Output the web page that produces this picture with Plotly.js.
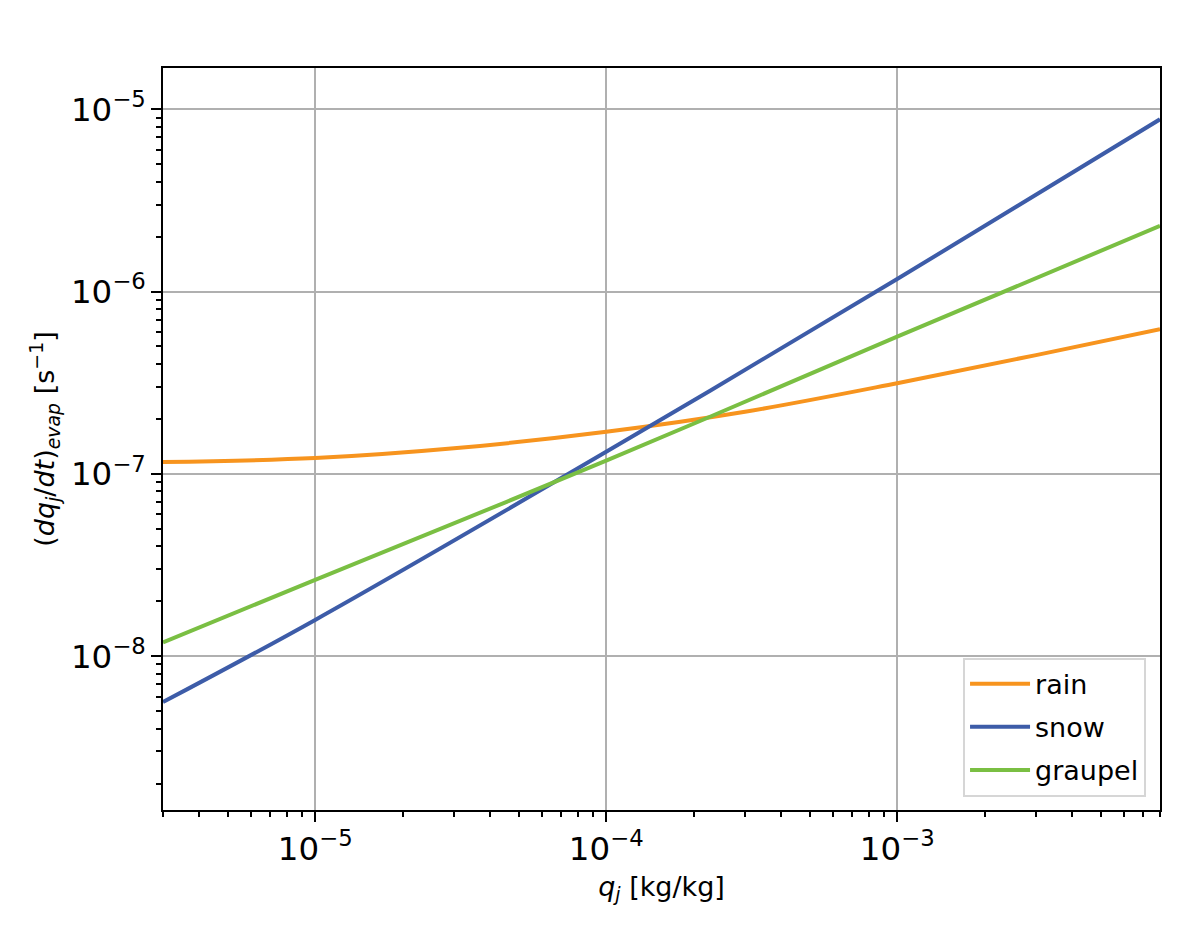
<!DOCTYPE html>
<html>
<head>
<meta charset="utf-8">
<script src="https://cdn.plot.ly/plotly-3.0.1.min.js"></script>
<style>
  body { margin: 0; background: #fff; }
  #plot { width: 1200px; height: 931px; }
</style>
</head>
<body>
<div id="plot"></div>
<script>
// values (log-log plot)
var q = [3e-6, 1e-5, 3e-5, 1e-4, 3e-4, 1e-3, 3e-3, 8e-3];
var rain = [1.16e-7, 1.22e-7, 1.38e-7, 1.70e-7, 2.19e-7, 3.14e-7, 4.48e-7, 6.21e-7];

var qLine = [3e-6, 1e-5, 1e-4, 1e-3, 8e-3];
var snow = [5.6e-9, 1.58e-8, 1.32e-7, 1.17e-6, 8.8e-6];
var graupel = [1.19e-8, 2.62e-8, 1.18e-7, 5.66e-7, 2.29e-6];

var font = 'DejaVu Sans, sans-serif';

var trace1 = {
  x: q, y: rain, name: 'rain', mode: 'lines', legendgroup: 'a',
  line: {color: '#f7941e', width: 4, shape: 'spline'}
};
var trace2 = {
  x: qLine, y: snow, name: 'snow', mode: 'lines', legendgroup: 'b',
  line: {color: '#3d5ca8', width: 4, shape: 'spline'}
};
var trace3 = {
  x: qLine, y: graupel, name: 'graupel', mode: 'lines', legendgroup: 'c',
  line: {color: '#7abf43', width: 4, shape: 'spline'}
};

var data = [trace1, trace2, trace3];

var axisCommon = {
  type: 'log',
  dtick: 1,
  exponentformat: 'power',
  showexponent: 'all',
  showline: true, mirror: true, linecolor: 'black', linewidth: 2,
  ticks: 'outside', ticklen: 10, tickwidth: 2, tickcolor: 'black',
  showgrid: true, gridcolor: '#b0b0b0', gridwidth: 2,
  zeroline: false,
  tickfont: {family: font, size: 26, color: 'black'},
  minor: {ticks: 'outside', ticklen: 5, tickwidth: 1.5, tickcolor: 'black', showgrid: false}
};

var layout = {
  width: 1200, height: 931,
  margin: {l: 163, r: 40, t: 68, b: 121},
  paper_bgcolor: 'white', plot_bgcolor: 'white',
  font: {family: font, size: 26, color: 'black'},
  showlegend: true,
  xaxis: Object.assign({}, axisCommon, {
    range: [Math.log10(3e-6), Math.log10(8e-3)],
    title: {text: '<i>q<sub>j</sub></i> [kg/kg]', font: {family: font, size: 27}, standoff: 10}
  }),
  yaxis: Object.assign({}, axisCommon, {
    range: [-8.844, -4.774],
    title: {text: '(<i>dq<sub>j</sub></i>/<i>dt</i>)<sub><i>evap</i></sub> [s<sup>−1</sup>]', font: {family: font, size: 27}, standoff: 8}
  }),
  legend: {
    x: 0.986, y: 0.018, xanchor: 'right', yanchor: 'bottom',
    traceorder: 'grouped', tracegroupgap: 5, itemwidth: 60,
    bgcolor: 'rgba(255,255,255,0.8)', bordercolor: '#d6d6d6', borderwidth: 2,
    font: {family: font, size: 27, color: 'black'}
  }
};

Plotly.newPlot('plot', data, layout, {displayModeBar: false});
</script>
</body>
</html>
